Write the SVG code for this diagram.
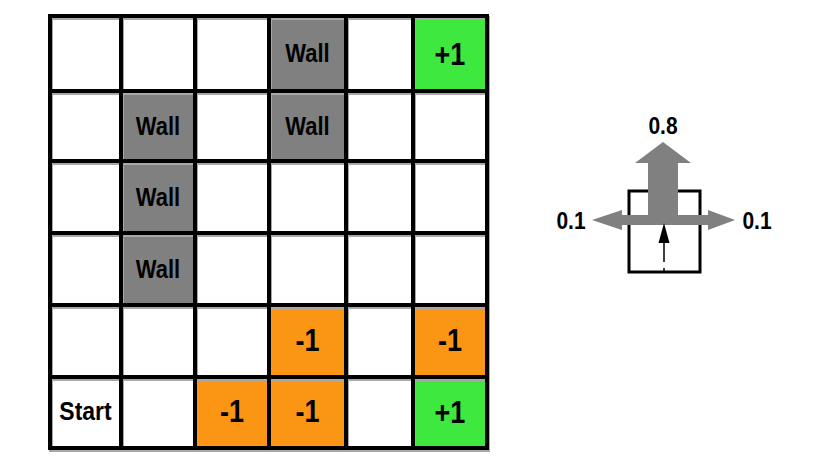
<svg xmlns="http://www.w3.org/2000/svg" width="816" height="462" viewBox="0 0 816 462">
<style>
text{font-family:"Liberation Sans",Arial,sans-serif;font-weight:bold;fill:#000;text-anchor:middle;transform-box:fill-box;transform-origin:center;transform:scaleY(1.15)}
.wall{fill:#808080}
.pos{fill:#3ee83e}
.neg{fill:#fb9514}
.lbl{font-size:22px}
.start{font-size:23px}
.rew{font-size:27px}
.prob{font-size:21px}
.grid{fill:none;stroke:#000;stroke-width:4;stroke-linecap:square}
.shadow{fill:none;stroke:#a8a8a8;stroke-width:4;stroke-linecap:square}
.garrow{fill:#808080}
</style>
<rect width="816" height="462" fill="#fff"/>
<g id="cells">
<g id="wall-r0c3"><rect class="wall" x="269" y="16" width="77" height="75"/><text class="lbl" x="307.5" y="61">Wall</text></g>
<g id="plus-r0c5"><rect class="pos" x="413" y="16" width="74" height="75"/><text class="rew" x="450" y="64">+1</text></g>
<g id="wall-r1c1"><rect class="wall" x="121" y="91" width="74" height="70"/><text class="lbl" x="158" y="134">Wall</text></g>
<g id="wall-r1c3"><rect class="wall" x="269" y="91" width="77" height="70"/><text class="lbl" x="307.5" y="134">Wall</text></g>
<g id="wall-r2c1"><rect class="wall" x="121" y="161" width="74" height="72"/><text class="lbl" x="158" y="205">Wall</text></g>
<g id="wall-r3c1"><rect class="wall" x="121" y="233" width="74" height="72"/><text class="lbl" x="158" y="277">Wall</text></g>
<g id="neg-r4c3"><rect class="neg" x="269" y="305" width="77" height="72"/><text class="rew" x="307.5" y="350">-1</text></g>
<g id="neg-r4c5"><rect class="neg" x="413" y="305" width="74" height="72"/><text class="rew" x="450" y="350">-1</text></g>
<g id="start-r5c0"><text class="start" x="85.5" y="419">Start</text></g>
<g id="neg-r5c2"><rect class="neg" x="195" y="377" width="74" height="71"/><text class="rew" x="232" y="421">-1</text></g>
<g id="neg-r5c3"><rect class="neg" x="269" y="377" width="77" height="71"/><text class="rew" x="307.5" y="421">-1</text></g>
<g id="plus-r5c5"><rect class="pos" x="413" y="377" width="74" height="71"/><text class="rew" x="450" y="422">+1</text></g>
</g>
<g id="grid-lines">
<path class="shadow" transform="translate(1,2)" d="M50 16V448M121 16V448M195 16V448M269 16V448M346 16V448M413 16V448M487 16V448M50 16H487M50 91H487M50 161H487M50 233H487M50 305H487M50 377H487M50 448H487"/>
<path class="grid" d="M50 16V448M121 16V448M195 16V448M269 16V448M346 16V448M413 16V448M487 16V448M50 16H487M50 91H487M50 161H487M50 233H487M50 305H487M50 377H487M50 448H487"/>
</g>
<g id="action-box">
<rect x="629" y="191" width="71" height="81" fill="none" stroke="#000" stroke-width="3"/>
<line x1="664" y1="268" x2="664" y2="273" stroke="#000" stroke-width="1.5"/>
</g>
<g id="connectors">
<polygon id="arrow-up" class="garrow" points="648,220 648,163 635,163 663,142 691,163 678,163 678,220"/>
<polygon id="arrow-side" class="garrow" points="622,215 622,210 592,220 622,230 622,225 708,225 708,230 735,220 708,210 708,215"/>
<g id="arrow-small">
<line x1="664" y1="262" x2="664" y2="240" stroke="#000" stroke-width="1.5"/>
<polygon points="664,223 658.5,243 669.5,243" fill="#000"/>
</g>
</g>
<g id="labels">
<text class="prob" x="663" y="133">0.8</text>
<text class="prob" x="571" y="228">0.1</text>
<text class="prob" x="757" y="228">0.1</text>
</g>
</svg>
